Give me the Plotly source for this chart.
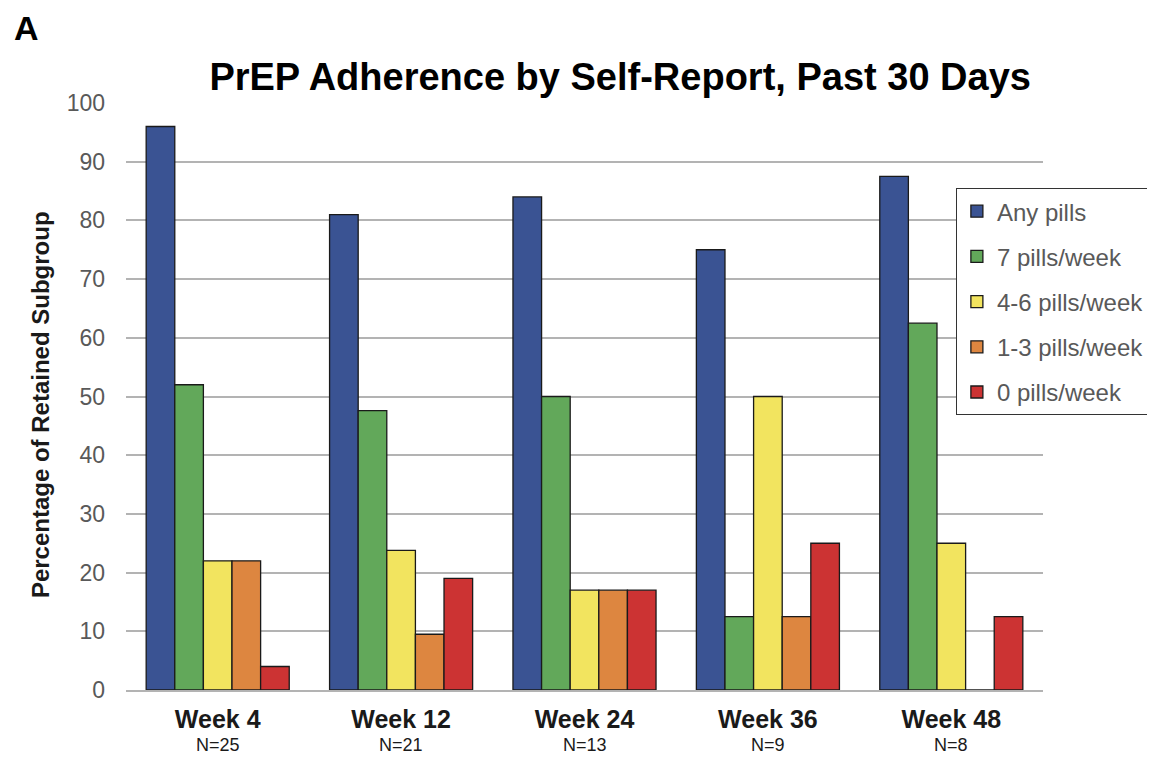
import plotly.graph_objects as go

weeks = ["Week 4", "Week 12", "Week 24", "Week 36", "Week 48"]
n_labels = ["N=25", "N=21", "N=13", "N=9", "N=8"]
series_names = ["Any pills", "7 pills/week", "4-6 pills/week", "1-3 pills/week", "0 pills/week"]
any_pills = [96, 81, 84, 75, 87.5]
seven = [52, 47.6, 50, 12.5, 62.5]
four_six = [22, 23.8, 17, 50, 25]
one_three = [22, 9.5, 17, 12.5, 0]
zero = [4, 19, 17, 25, 12.5]
colors = ["#3A5393", "#62A85A", "#F2E45F", "#DD8640", "#CC3333"]

values = [any_pills, seven, four_six, one_three, zero]
font = "Liberation Sans, Arial, sans-serif"

fig = go.Figure()
for name, vals, c in zip(series_names, values, colors):
    fig.add_trace(go.Bar(
        x=weeks, y=vals, name=name, legendgroup=name,
        marker=dict(color=c, line=dict(color="#1a1a1a", width=1.3)),
    ))

ticktext = [f"<b>{w}</b>" for w in weeks]

fig.update_layout(
    width=1155, height=758,
    margin=dict(l=118, r=120, t=95, b=76),
    paper_bgcolor="white", plot_bgcolor="white",
    barmode="group", bargap=0.22, bargroupgap=0,
    font=dict(family=font, color="#595959"),
    title=dict(text="<b>PrEP Adherence by Self-Report, Past 30 Days</b>",
               x=0.53, xanchor="center", y=0.909, yanchor="middle",
               font=dict(size=38, color="black", family=font)),
    legend=dict(x=0.905, y=0.855, xanchor="left", yanchor="top",
                bordercolor="#333333", borderwidth=1, bgcolor="white",
                font=dict(size=24, color="#595959", family=font),
                tracegroupgap=11, itemwidth=30),
    xaxis=dict(tickmode="array", tickvals=weeks, ticktext=ticktext,
               tickfont=dict(size=25, color="#1a1a1a", family=font),
               ticklabelstandoff=6,
               showline=True, linecolor="#b3b3b3", linewidth=1.5, ticks=""),
    yaxis=dict(range=[0, 100], dtick=10, showgrid=True, gridcolor="#b3b3b3", gridwidth=1.5,
               zeroline=False, tickfont=dict(size=23, color="#595959", family=font),
               ticklabelstandoff=20),
)
for w, n in zip(weeks, n_labels):
    fig.add_annotation(text=n, x=w, xref="x", y=-0.0937, yref="paper",
                       xanchor="center", yanchor="middle", showarrow=False,
                       font=dict(size=18, color="#1a1a1a", family=font))
fig.add_annotation(text="<b>Percentage of Retained Subgroup</b>", textangle=-90,
                   xref="paper", yref="paper", x=-0.0938, y=0.487,
                   xanchor="center", yanchor="middle", showarrow=False,
                   font=dict(size=24, color="#1a1a1a", family=font))
fig.add_annotation(text="<b>A</b>", xref="paper", yref="paper", x=-0.124, y=1.128,
                   xanchor="left", yanchor="middle", showarrow=False,
                   font=dict(size=34, color="black", family=font))

fig.write_html("out.html")
